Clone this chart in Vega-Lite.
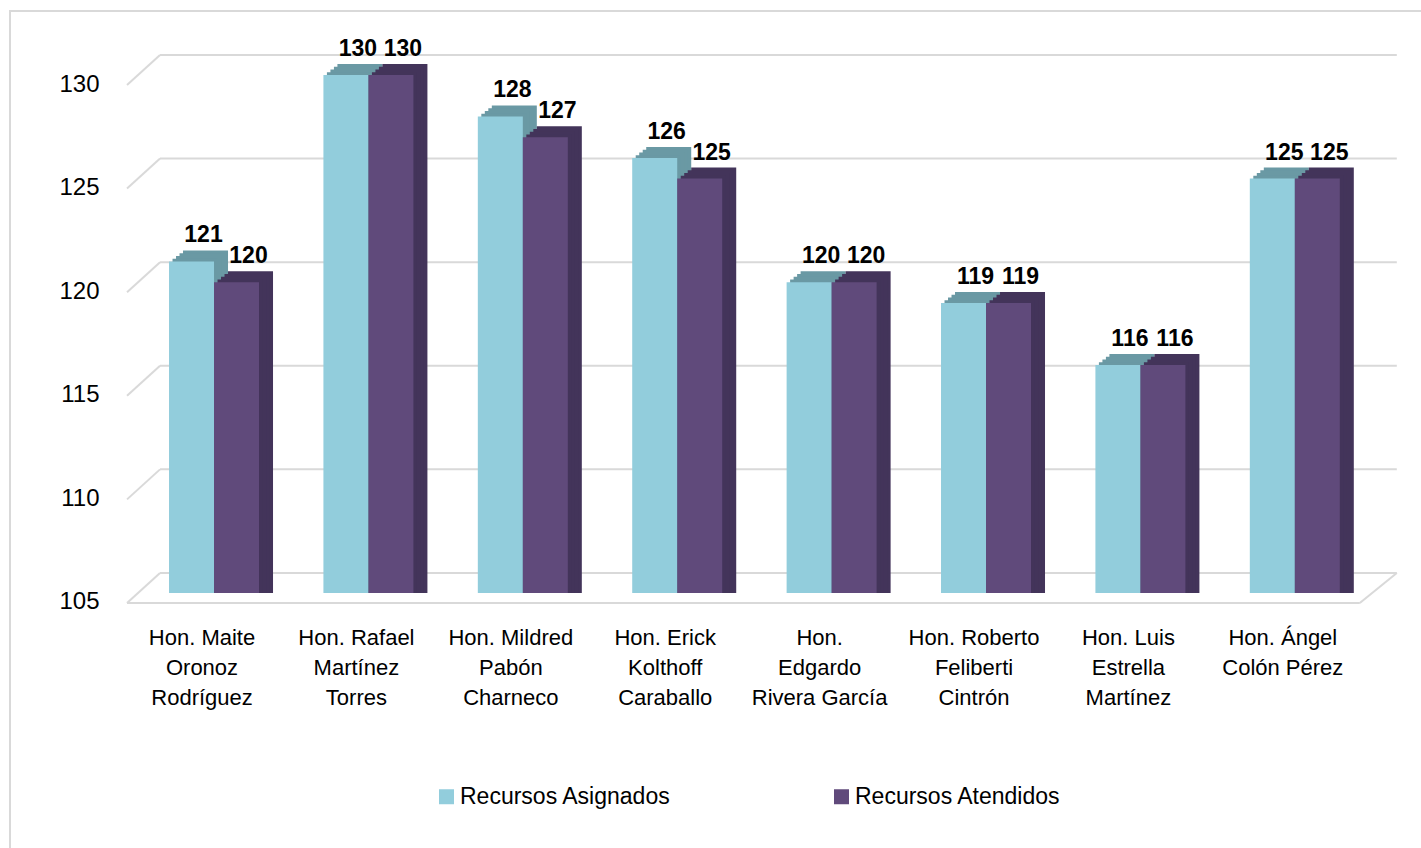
{
  "$schema": "https://vega.github.io/schema/vega-lite/v6.json",
  "width": 1411,
  "height": 837,
  "autosize": {"type": "none"},
  "padding": {"left": 10, "top": 11, "right": 0, "bottom": 0},
  "background": "white",
  "config": {
    "view": {"stroke": "#d9d9d9", "strokeWidth": 2, "strokeDash": [1411, 2248, 837]},
    "font": "Liberation Sans, Arial, sans-serif",
    "axis": {"grid": false, "ticks": false, "domain": false, "labelColor": "#000000", "labelFont": "Liberation Sans, Arial, sans-serif"},
    "legend": {"labelFont": "Liberation Sans, Arial, sans-serif"}
  },
  "datasets": {
    "bars": [
      {"name": "Hon. Maite\nOronoz\nRodríguez", "series": "Recursos Asignados", "value": 121},
      {"name": "Hon. Maite\nOronoz\nRodríguez", "series": "Recursos Atendidos", "value": 120},
      {"name": "Hon. Rafael\nMartínez\nTorres", "series": "Recursos Asignados", "value": 130},
      {"name": "Hon. Rafael\nMartínez\nTorres", "series": "Recursos Atendidos", "value": 130},
      {"name": "Hon. Mildred\nPabón\nCharneco", "series": "Recursos Asignados", "value": 128},
      {"name": "Hon. Mildred\nPabón\nCharneco", "series": "Recursos Atendidos", "value": 127},
      {"name": "Hon. Erick\nKolthoff\nCaraballo", "series": "Recursos Asignados", "value": 126},
      {"name": "Hon. Erick\nKolthoff\nCaraballo", "series": "Recursos Atendidos", "value": 125},
      {"name": "Hon.\nEdgardo\nRivera García", "series": "Recursos Asignados", "value": 120},
      {"name": "Hon.\nEdgardo\nRivera García", "series": "Recursos Atendidos", "value": 120},
      {"name": "Hon. Roberto\nFeliberti\nCintrón", "series": "Recursos Asignados", "value": 119},
      {"name": "Hon. Roberto\nFeliberti\nCintrón", "series": "Recursos Atendidos", "value": 119},
      {"name": "Hon. Luis\nEstrella\nMartínez", "series": "Recursos Asignados", "value": 116},
      {"name": "Hon. Luis\nEstrella\nMartínez", "series": "Recursos Atendidos", "value": 116},
      {"name": "Hon. Ángel\nColón Pérez", "series": "Recursos Asignados", "value": 125},
      {"name": "Hon. Ángel\nColón Pérez", "series": "Recursos Atendidos", "value": 125}
    ],
    "grid": [{"v": 105}, {"v": 110}, {"v": 115}, {"v": 120}, {"v": 125}, {"v": 130}]
  },
  "data": {"name": "bars"},
  "layer": [
    {
      "data": {"name": "grid"},
      "mark": {"type": "rule", "color": "#d9d9d9", "strokeWidth": 2, "xOffset": -54, "x2Offset": 102, "yOffset": -20},
      "encoding": {
        "x": {"datum": "Hon. Maite\nOronoz\nRodríguez", "type": "nominal", "title": null,
          "scale": {"domain": ["Hon. Maite\nOronoz\nRodríguez", "Hon. Rafael\nMartínez\nTorres", "Hon. Mildred\nPabón\nCharneco", "Hon. Erick\nKolthoff\nCaraballo", "Hon.\nEdgardo\nRivera García", "Hon. Roberto\nFeliberti\nCintrón", "Hon. Luis\nEstrella\nMartínez", "Hon. Ángel\nColón Pérez"], "paddingInner": 0.4171, "paddingOuter": 0.7779, "align": 0.662},
          "axis": {"orient": "bottom", "title": null, "offset": -221, "labelPadding": 0, "labelAngle": 0, "labelFontSize": 22, "labelLineHeight": 30, "labelBaseline": "top", "labelOffset": -12, "labelExpr": "split(datum.label, '\\n')", "labelLimit": 0, "labelOverlap": false, "labelBound": false}},
        "x2": {"datum": "Hon. Ángel\nColón Pérez"},
        "y": {"field": "v", "type": "quantitative", "title": null,
          "scale": {"domain": [92.69, 133.09], "nice": false, "zero": false},
          "axis": {"title": null, "values": [105, 110, 115, 120, 125, 130], "offset": -91, "labelPadding": 2, "labelFontSize": 24, "labelOffset": 9}}
      }
    },
    {
      "data": {"name": "grid"},
      "mark": {"type": "rule", "color": "#d9d9d9", "strokeWidth": 2, "xOffset": -87, "x2Offset": -54, "yOffset": 10, "y2Offset": -20},
      "encoding": {
        "x": {"datum": "Hon. Maite\nOronoz\nRodríguez", "type": "nominal", "title": null},
        "x2": {"datum": "Hon. Maite\nOronoz\nRodríguez"},
        "y": {"field": "v", "type": "quantitative", "title": null},
        "y2": {"field": "v"}
      }
    },
    {
      "data": {"name": "grid"},
      "transform": [{"filter": "datum.v == 105"}],
      "mark": {"type": "rule", "color": "#d9d9d9", "strokeWidth": 2, "xOffset": -87, "x2Offset": 65, "yOffset": 10},
      "encoding": {
        "x": {"datum": "Hon. Maite\nOronoz\nRodríguez", "type": "nominal", "title": null},
        "x2": {"datum": "Hon. Ángel\nColón Pérez"},
        "y": {"field": "v", "type": "quantitative", "title": null}
      }
    },
    {
      "data": {"name": "grid"},
      "transform": [{"filter": "datum.v == 105"}],
      "mark": {"type": "rule", "color": "#d9d9d9", "strokeWidth": 2, "xOffset": 65, "x2Offset": 102, "yOffset": 10, "y2Offset": -20},
      "encoding": {
        "x": {"datum": "Hon. Ángel\nColón Pérez", "type": "nominal", "title": null},
        "x2": {"datum": "Hon. Ángel\nColón Pérez"},
        "y": {"field": "v", "type": "quantitative", "title": null},
        "y2": {"field": "v"}
      }
    },
    {
      "mark": {"type": "bar", "yOffset": -11},
      "encoding": {
        "x": {"field": "name", "type": "nominal", "title": null},
        "xOffset": {"field": "series", "type": "nominal", "sort": ["Recursos Asignados", "Recursos Atendidos"], "scale": {"range": [14, 104]}},
        "y": {"field": "value", "type": "quantitative", "title": null},
        "y2": {"datum": 105},
        "color": {"condition": {"test": "datum.series === 'Recursos Asignados'", "value": "#6a99a4"}, "value": "#43345a"}
      }
    },
    {
      "mark": {"type": "bar", "yOffset": -8.25},
      "encoding": {
        "x": {"field": "name", "type": "nominal", "title": null},
        "xOffset": {"field": "series", "type": "nominal", "sort": ["Recursos Asignados", "Recursos Atendidos"], "scale": {"range": [10.5, 100.5]}},
        "y": {"field": "value", "type": "quantitative", "title": null},
        "y2": {"datum": 105},
        "color": {"condition": {"test": "datum.series === 'Recursos Asignados'", "value": "#6a99a4"}, "value": "#43345a"}
      }
    },
    {
      "mark": {"type": "bar", "yOffset": -5.5},
      "encoding": {
        "x": {"field": "name", "type": "nominal", "title": null},
        "xOffset": {"field": "series", "type": "nominal", "sort": ["Recursos Asignados", "Recursos Atendidos"], "scale": {"range": [7, 97]}},
        "y": {"field": "value", "type": "quantitative", "title": null},
        "y2": {"datum": 105},
        "color": {"condition": {"test": "datum.series === 'Recursos Asignados'", "value": "#6a99a4"}, "value": "#43345a"}
      }
    },
    {
      "mark": {"type": "bar", "yOffset": -2.75},
      "encoding": {
        "x": {"field": "name", "type": "nominal", "title": null},
        "xOffset": {"field": "series", "type": "nominal", "sort": ["Recursos Asignados", "Recursos Atendidos"], "scale": {"range": [3.5, 93.5]}},
        "y": {"field": "value", "type": "quantitative", "title": null},
        "y2": {"datum": 105},
        "color": {"condition": {"test": "datum.series === 'Recursos Asignados'", "value": "#6a99a4"}, "value": "#43345a"}
      }
    },
    {
      "mark": {"type": "bar"},
      "encoding": {
        "x": {"field": "name", "type": "nominal", "title": null},
        "xOffset": {"field": "series", "type": "nominal", "sort": ["Recursos Asignados", "Recursos Atendidos"]},
        "y": {"field": "value", "type": "quantitative", "title": null},
        "y2": {"datum": 105},
        "color": {"field": "series", "type": "nominal", "scale": {"domain": ["Recursos Asignados", "Recursos Atendidos"], "range": ["#92cddc", "#604a7b"]}, "legend": {"orient": "none", "legendX": 425, "legendY": 774, "direction": "horizontal", "columns": 2, "columnPadding": 159, "symbolType": "square", "symbolSize": 225, "symbolStrokeWidth": 0, "labelFontSize": 23, "labelColor": "#000000", "labelOffset": 2, "title": null, "padding": 0, "labelLimit": 0}}
      }
    },
    {
      "mark": {"type": "text", "dx": 12, "dy": -19, "baseline": "alphabetic", "fontSize": 23, "fontWeight": "bold", "color": "#000000"},
      "encoding": {
        "x": {"field": "name", "type": "nominal", "title": null},
        "xOffset": {"field": "series", "type": "nominal", "sort": ["Recursos Asignados", "Recursos Atendidos"]},
        "y": {"field": "value", "type": "quantitative", "title": null},
        "text": {"field": "value", "type": "quantitative"}
      }
    }
  ],
  "resolve": {"scale": {"xOffset": "independent"}}
}
